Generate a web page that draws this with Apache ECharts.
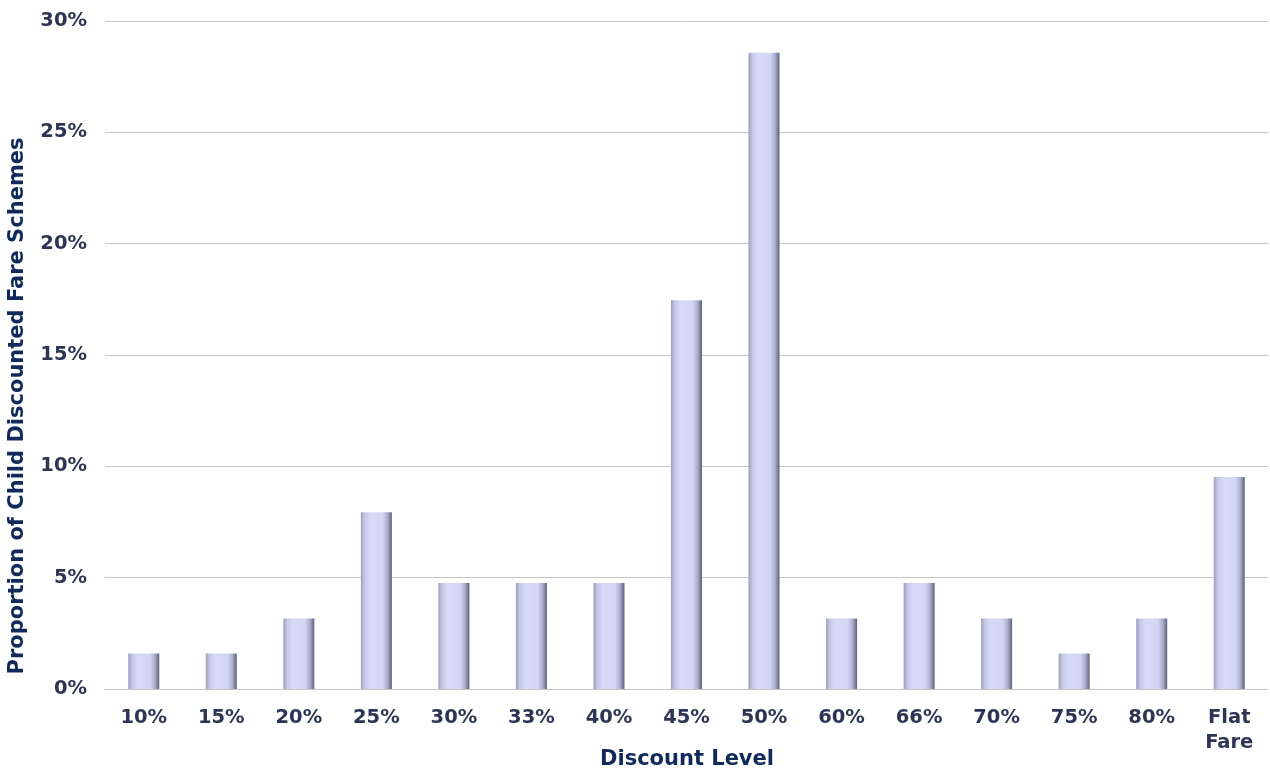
<!DOCTYPE html>
<html>
<head>
<meta charset="utf-8">
<style>
  html, body { margin: 0; padding: 0; background: #fff; }
  #chart { width: 1270px; height: 772px; }
</style>
<script src="https://cdn.jsdelivr.net/npm/echarts@6/dist/echarts.min.js"></script>
</head>
<body>
<div id="chart"></div>
<script>
// discount level categories
const categories = ['10%', '15%', '20%', '25%', '30%', '33%', '40%', '45%', '50%', '60%', '66%', '70%', '75%', '80%', 'Flat\nFare']
// share of schemes, percent
const shares = [1.59, 1.59, 3.17, 7.94, 4.76, 4.76, 4.76, 17.46, 28.57, 3.17, 4.76, 3.17, 1.59, 3.17, 9.52]

const font = 'Verdana, "DejaVu Sans", sans-serif'

const chart = echarts.init(document.getElementById('chart'))

const barFill = new echarts.graphic.LinearGradient(0, 0, 1, 0, [
  { offset: 0, color: '#9a9eba' },
  { offset: 0.12, color: '#c4c8e6' },
  { offset: 0.3, color: '#d6daf6' },
  { offset: 0.7, color: '#d2d6f3' },
  { offset: 0.86, color: '#a9adcb' },
  { offset: 1, color: '#5c6079' }
])

chart.setOption({
  animation: false,
  grid: { left: 105, right: 2, top: 21, bottom: 83, containLabel: false, outerBoundsMode: 'none' },
  xAxis: {
    type: 'category',
    data: categories,
    axisLine: { lineStyle: { color: '#c6c6c6' } },
    axisTick: { show: false },
    axisLabel: {
      color: '#2c3555',
      fontFamily: font,
      fontWeight: 'bold',
      fontSize: 19.5,
      margin: 16,
      lineHeight: 25
    }
  },
  yAxis: {
    type: 'value',
    min: 0,
    max: 30,
    interval: 5,
    axisLine: { show: false },
    axisTick: { show: false },
    splitLine: { lineStyle: { color: '#c6c6c6' } },
    axisLabel: {
      color: '#2c3555',
      fontFamily: font,
      fontWeight: 'bold',
      fontSize: 19.5,
      margin: 18,
      formatter: '{value}%'
    }
  },
  graphic: [{
    type: 'text',
    x: 7,
    y: 406,
    rotation: Math.PI / 2,
    style: {
      text: 'Proportion of Child Discounted Fare Schemes',
      fill: '#102a5c',
      font: 'bold 21px ' + font,
      align: 'center',
      verticalAlign: 'top'
    }
  }, {
    type: 'text',
    x: 687,
    y: 760,
    style: {
      text: 'Discount Level',
      fill: '#102a5c',
      font: 'bold 21px ' + font,
      align: 'center',
      verticalAlign: 'middle'
    }
  }],
  series: [{
    type: 'bar',
    data: shares,
    barWidth: 31,
    itemStyle: {
      color: barFill
    }
  }]
})
</script>
</body>
</html>
